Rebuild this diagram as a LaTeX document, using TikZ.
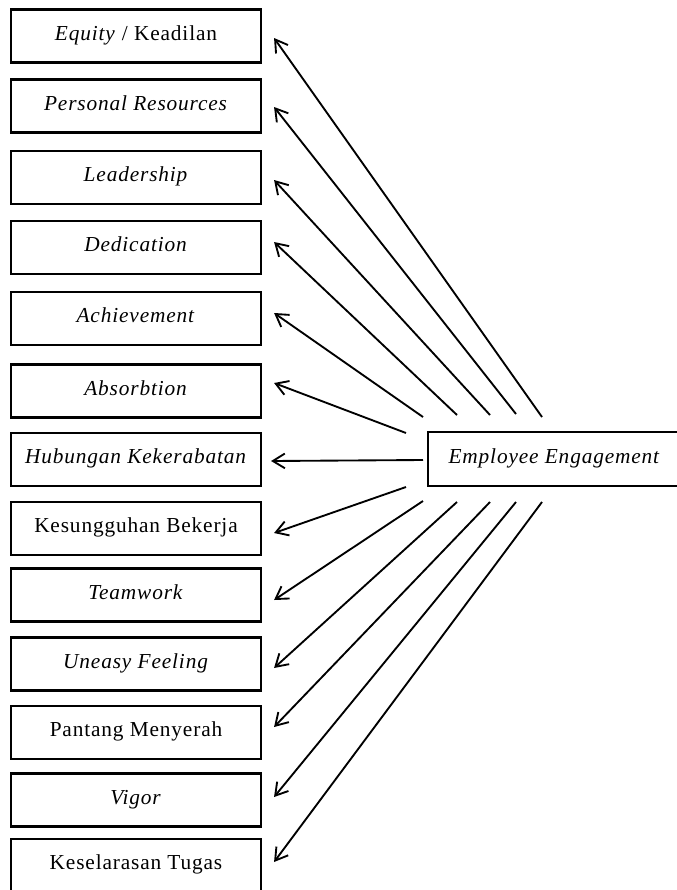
\documentclass[tikz,border=0pt]{standalone}
\usepackage{fontspec}
\setmainfont[LetterSpace=4]{Liberation Serif}
\usetikzlibrary{arrows.meta}
\begin{document}
\begin{tikzpicture}[x=0.75pt,y=-0.75pt,
  box/.style={draw, line width=1.6pt, minimum width=187.5pt, minimum height=39.75pt,
    inner sep=0pt, font=\fontsize{16}{19}\selectfont, text height=11pt, text depth=5pt},
  link/.style={line width=1.4pt, -{Straight Barb[length=9pt,width=11pt,line width=1.4pt]}}]
\useasboundingbox (0,0) rectangle (677,890);
\clip (0,0) rectangle (677,890);
\node[box] (b1) at (136,36) {\textit{Equity} / Keadilan};
\node[box] (b2) at (136,106) {\textit{Personal Resources}};
\node[box] (b3) at (136,177.5) {\textit{Leadership}};
\node[box] (b4) at (136,247.5) {\textit{Dedication}};
\node[box] (b5) at (136,318.5) {\textit{Achievement}};
\node[box] (b6) at (136,391) {\textit{Absorbtion}};
\node[box] (b7) at (136,459.5) {\textit{Hubungan Kekerabatan}};
\node[box] (b8) at (136,528.5) {Kesungguhan Bekerja};
\node[box] (b9) at (136,595) {\textit{Teamwork}};
\node[box] (b10) at (136,664) {\textit{Uneasy Feeling}};
\node[box] (b11) at (136,732.5) {Pantang Menyerah};
\node[box] (b12) at (136,800) {\textit{Vigor}};
\node[box] (b13) at (136,865.5) {Keselarasan Tugas};
\node[box, minimum width=189.75pt, minimum height=40.5pt] (ee) at (554.5,459) {\textit{Employee Engagement}};
\coordinate (s1) at (542,417);
\coordinate (s2) at (516,414);
\coordinate (s3) at (490,415);
\coordinate (s4) at (457,415);
\coordinate (s5) at (423,417);
\coordinate (s6) at (406,433);
\coordinate (s7) at (423,460);
\coordinate (s8) at (406,487);
\coordinate (s9) at (423,501);
\coordinate (s10) at (457,502);
\coordinate (s11) at (490,502);
\coordinate (s12) at (516,502);
\coordinate (s13) at (542,502);
\draw[link] (s1) -- ([shift={(12,2)}]b1.east);
\draw[link] (s2) -- ([shift={(12,1)}]b2.east);
\draw[link] (s3) -- ([shift={(12,2.5)}]b3.east);
\draw[link] (s4) -- ([shift={(12,-5.5)}]b4.east);
\draw[link] (s5) -- ([shift={(12,-5.5)}]b5.east);
\draw[link] (s6) -- ([shift={(12,-8)}]b6.east);
\draw[link] (s7) -- ([shift={(9,1.5)}]b7.east);
\draw[link] (s8) -- ([shift={(12,4.5)}]b8.east);
\draw[link] (s9) -- ([shift={(12,5)}]b9.east);
\draw[link] (s10) -- ([shift={(12,4)}]b10.east);
\draw[link] (s11) -- ([shift={(12,-5.5)}]b11.east);
\draw[link] (s12) -- ([shift={(12,-3)}]b12.east);
\draw[link] (s13) -- ([shift={(12,-3.5)}]b13.east);
\end{tikzpicture}
\end{document}
